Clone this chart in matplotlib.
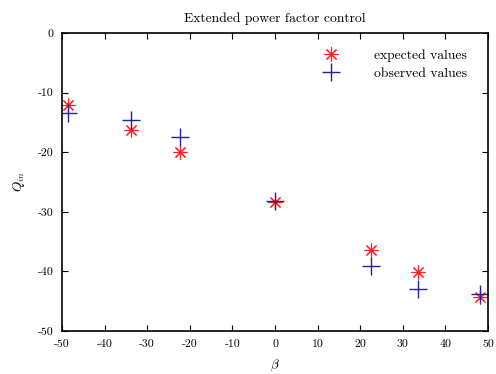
import numpy as np
import matplotlib
matplotlib.use("Agg")
import matplotlib.pyplot as plt

plt.rcParams['font.family'] = 'cmr10'
plt.rcParams['mathtext.fontset'] = 'cm'
plt.rcParams['axes.unicode_minus'] = False
plt.rcParams['axes.formatter.use_mathtext'] = False

beta = [-48.6, -33.8, -22.3, 0.0, 22.5, 33.6, 48.1]
q_expected = [-12.1, -16.3, -20.0, -28.4, -36.4, -40.1, -44.3]
q_observed = [-13.4, -14.6, -17.5, -28.2, -39.1, -43.0, -43.8]

fig = plt.figure(figsize=(4.96, 3.74), dpi=100)
ax = fig.add_axes([0.125, 0.115, 0.859, 0.797])

ax.plot(beta, q_expected, linestyle='none', marker=(8, 2, 0), markersize=10,
        markeredgewidth=0.8, color='#ff2020', label='expected values')
ax.plot(beta, q_observed, linestyle='none', marker='+', markersize=13,
        markeredgewidth=1.0, color='#22229a', label='observed values')

ax.set_xlim(-50, 50)
ax.set_ylim(-50, 0)
ax.set_xticks(np.arange(-50, 51, 10))
ax.set_yticks(np.arange(-50, 1, 10))
ax.tick_params(direction='in', top=True, right=True, labelsize=8.5, length=4, pad=6)
for s in ax.spines.values():
    s.set_linewidth(1.2)

ax.set_title('Extended power factor control', fontsize=9.8, pad=8)
ax.set_xlabel(r'$\beta$', fontsize=9.5, labelpad=6)
ax.set_ylabel(r'$Q_{in}$', fontsize=9.5, labelpad=8)

ax.legend(loc='upper right', bbox_to_anchor=(0.99, 1.0), frameon=False,
          fontsize=9.8, handletextpad=2.2, borderaxespad=0.8, labelspacing=0.4)

fig.savefig('out.png', dpi=100)
